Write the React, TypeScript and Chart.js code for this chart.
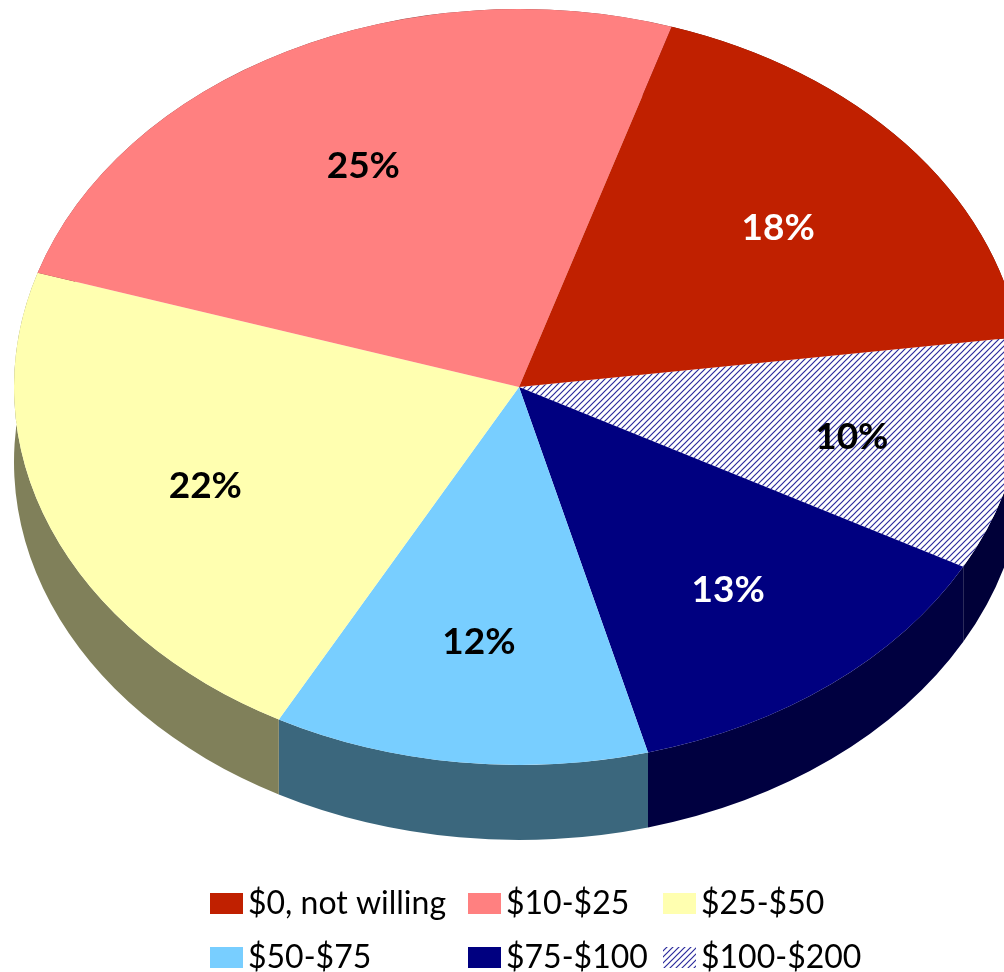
import React, { useEffect, useRef } from "react";
import { Chart, registerables } from "chart.js";

Chart.register(...registerables);

// ---- data (legend order) ----
const categories = ["$0, not willing", "$10-$25", "$25-$50", "$50-$75", "$75-$100", "$100-$200"];
const shares = [18, 25, 22, 12, 13, 10];
const percentLabels = ["18%", "25%", "22%", "12%", "13%", "10%"];

// ---- styles ----
const topColors = ["#C02000", "#FF8080", "#FFFFB0", "#78CEFF", "#000080", "HATCH"];
const sideColors = ["#601000", "#804040", "#80805A", "#3B677D", "#000040", "#000038"];
const labelColors = ["#FFFFFF", "#000000", "#000000", "#000000", "#FFFFFF", "#000000"];

// drawing order: clockwise from the $100-$200 slice (Excel draws this 3D pie counter-clockwise)
const drawOrder = [5, 4, 3, 2, 1, 0];

const VIEW = { cx: 519, cy: 387, rx: 505, ry: 378, depth: 75, rotation: 82.4, labelR: 0.67, labelDy: 4 };
const LEGEND = { cols: [210, 468, 663], rows: [903.5, 957.5], boxW: 33, boxH: 21, gap: 5 };

function makeHatch(ctx: CanvasRenderingContext2D): CanvasPattern {
  const tile = document.createElement("canvas");
  tile.width = 6;
  tile.height = 6;
  const t = tile.getContext("2d")!;
  t.fillStyle = "#FFFFFF";
  t.fillRect(0, 0, 6, 6);
  t.strokeStyle = "#2B2B9C";
  t.lineWidth = 1.2;
  t.beginPath();
  t.moveTo(0, 6);
  t.lineTo(6, 0);
  t.moveTo(-1, 1);
  t.lineTo(1, -1);
  t.moveTo(5, 7);
  t.lineTo(7, 5);
  t.stroke();
  return ctx.createPattern(tile, "repeat")!;
}

export default function App() {
  const ref = useRef<HTMLCanvasElement | null>(null);

  useEffect(() => {
    const canvas = ref.current!;
    const ctx0 = canvas.getContext("2d")!;
    const hatch = makeHatch(ctx0);
    const fill = (i: number) => (topColors[i] === "HATCH" ? hatch : topColors[i]);

    const pie3d = {
      id: "pie3d",
      beforeDatasetsDraw(chart: any) {
        const meta = chart.getDatasetMeta(0);
        const first = meta.data[0];
        const x = first.x, y = first.y, R = first.outerRadius;
        const ctx: CanvasRenderingContext2D = chart.ctx;
        ctx.save();
        ctx.translate(VIEW.cx, VIEW.cy);
        ctx.scale(VIEW.rx / R, VIEW.ry / R);
        ctx.translate(-x, -y);
        hatch.setTransform(ctx.getTransform().inverse());
        const dy = (VIEW.depth * R) / VIEW.ry;
        meta.data.forEach((el: any, k: number) => {
          const i = drawOrder[k];
          ctx.beginPath();
          ctx.arc(x, y, R, el.startAngle, el.endAngle);
          ctx.arc(x, y + dy, R, el.endAngle, el.startAngle, true);
          ctx.closePath();
          ctx.fillStyle = sideColors[i];
          ctx.fill();
        });
      },
      afterDatasetsDraw(chart: any) {
        const ctx: CanvasRenderingContext2D = chart.ctx;
        ctx.restore();
        hatch.setTransform(new DOMMatrix());
        const meta = chart.getDatasetMeta(0);
        ctx.save();
        ctx.font = "bold 37px Lato";
        ctx.textAlign = "center";
        ctx.textBaseline = "middle";
        meta.data.forEach((el: any, k: number) => {
          const i = drawOrder[k];
          const mid = (el.startAngle + el.endAngle) / 2;
          const px = VIEW.cx + Math.cos(mid) * VIEW.labelR * VIEW.rx;
          const py = VIEW.cy + Math.sin(mid) * VIEW.labelR * VIEW.ry + VIEW.labelDy;
          ctx.fillStyle = labelColors[i];
          ctx.fillText(percentLabels[i], px, py);
        });
        ctx.restore();
      },
      afterDraw(chart: any) {
        const ctx: CanvasRenderingContext2D = chart.ctx;
        ctx.save();
        ctx.font = "32px Lato";
        ctx.textAlign = "left";
        ctx.textBaseline = "middle";
        categories.forEach((label, i) => {
          const col = i % 3;
          const row = Math.floor(i / 3);
          const bx = LEGEND.cols[col];
          const cy = LEGEND.rows[row];
          ctx.fillStyle = fill(i);
          ctx.fillRect(bx, cy - LEGEND.boxH / 2, LEGEND.boxW, LEGEND.boxH);
          ctx.fillStyle = "#000000";
          ctx.fillText(label, bx + LEGEND.boxW + LEGEND.gap, cy);
        });
        ctx.restore();
      },
    };

    const chart = new Chart(canvas, {
      type: "pie",
      data: {
        labels: drawOrder.map((i) => categories[i]),
        datasets: [
          {
            data: drawOrder.map((i) => shares[i]),
            backgroundColor: drawOrder.map((i) => fill(i)) as any,
            borderWidth: 0,
            clip: false as any,
          },
        ],
      },
      options: {
        responsive: false,
        animation: false,
        events: [],
        rotation: VIEW.rotation,
        layout: { padding: 0 },
        plugins: {
          legend: { display: false },
          tooltip: { enabled: false },
        },
      },
      plugins: [pie3d],
    });

    return () => chart.destroy();
  }, []);

  return (
    <div style={{ position: "absolute", left: 0, top: 0, width: 1004, height: 972, background: "#FFFFFF" }}>
      <canvas ref={ref} width={1004} height={972} style={{ display: "block" }} />
    </div>
  );
}
